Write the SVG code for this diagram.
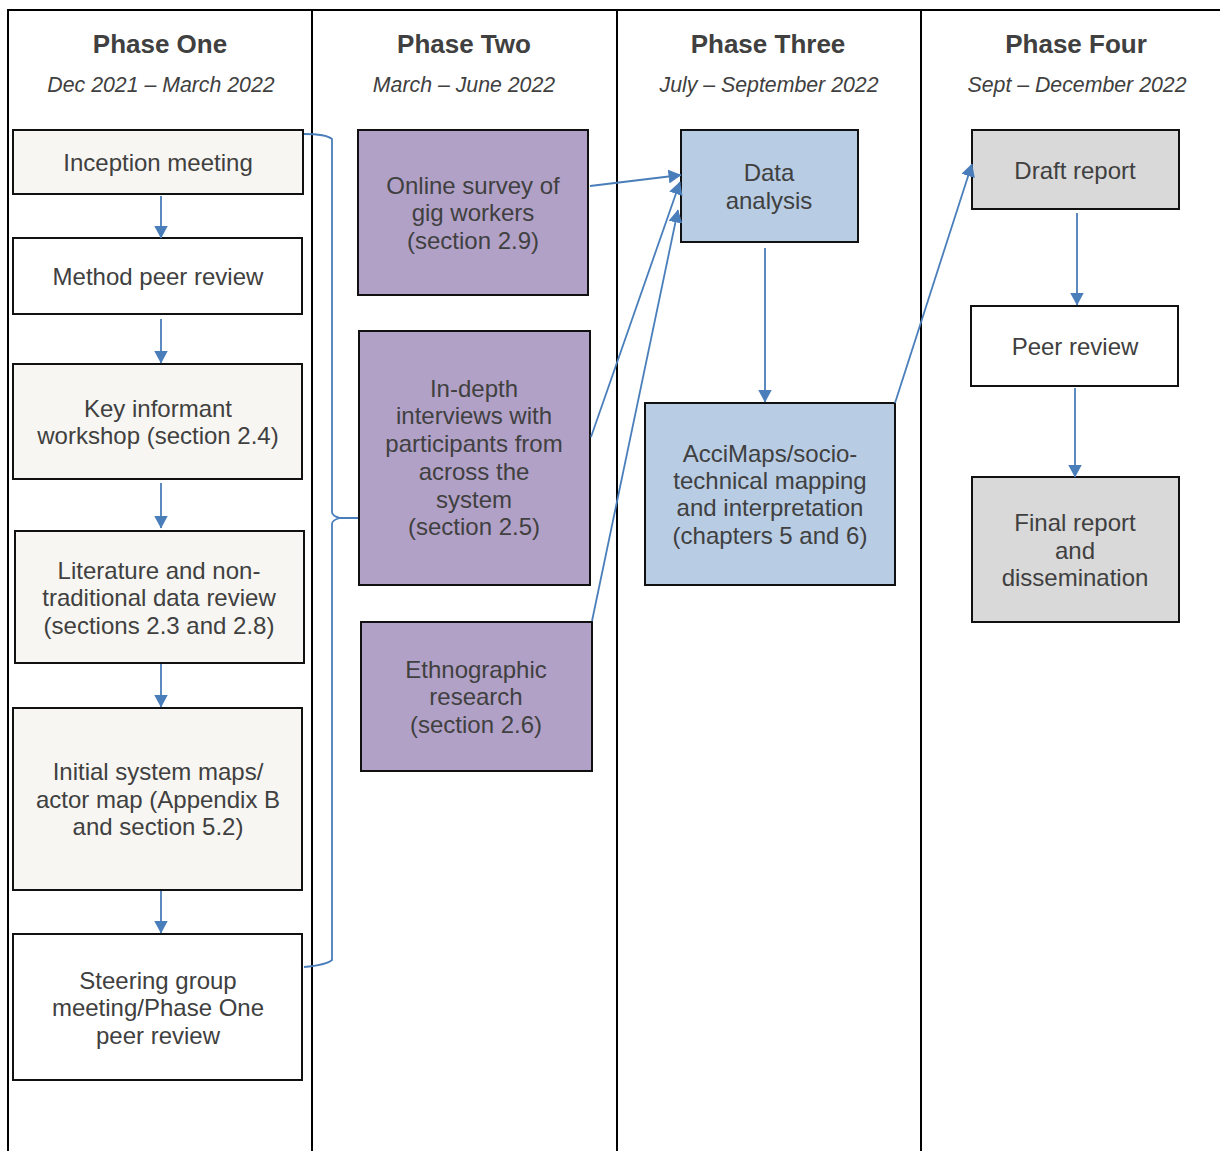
<svg xmlns="http://www.w3.org/2000/svg" width="1220" height="1151" viewBox="0 0 1220 1151">
<defs>
<marker id="ah" viewBox="0 0 13 14" refX="12.5" refY="7" markerWidth="13" markerHeight="14" markerUnits="userSpaceOnUse" orient="auto">
<path d="M0,0 L13,7 L0,14 Z" fill="#4A7EBB"/>
</marker>
<style>
.grid{stroke:#000;stroke-width:2;fill:none}
.box{stroke:#111;stroke-width:2}
.cream{fill:#F7F6F2}
.white{fill:#FFFFFF}
.purple{fill:#B2A1C7}
.blue{fill:#B8CCE4}
.grey{fill:#D9D9D9}
text{font-family:"Liberation Sans",Arial,sans-serif;fill:#404040;text-anchor:middle}
.t{font-size:24px}
.h{font-size:26px;font-weight:bold}
.d{font-size:21.3px;font-style:italic}
.c{stroke:#4A7EBB;stroke-width:1.8;fill:none}
</style>
</defs>
<rect width="1220" height="1151" fill="#fff"/>
<g id="table">
<line class="grid" x1="7" y1="10" x2="1220" y2="10"/>
<line class="grid" x1="8" y1="10" x2="8" y2="1151"/>
<line class="grid" x1="312" y1="10" x2="312" y2="1151"/>
<line class="grid" x1="617" y1="10" x2="617" y2="1151"/>
<line class="grid" x1="921" y1="10" x2="921" y2="1151"/>
</g>
<g id="headers">
<text class="h" x="160" y="53">Phase One</text>
<text class="d" x="161" y="92">Dec 2021 – March 2022</text>
<text class="h" x="464" y="53">Phase Two</text>
<text class="d" x="464" y="92">March – June 2022</text>
<text class="h" x="768" y="53">Phase Three</text>
<text class="d" x="769" y="92">July – September 2022</text>
<text class="h" x="1076" y="53">Phase Four</text>
<text class="d" x="1077" y="92">Sept – December 2022</text>
</g>
<g id="n1"><rect class="box cream" x="13" y="130" width="290" height="64"/><text class="t" x="158" y="171">Inception meeting</text></g>
<g id="n2"><rect class="box white" x="13" y="238" width="289" height="76"/><text class="t" x="158" y="285">Method peer review</text></g>
<g id="n3"><rect class="box cream" x="13" y="364" width="289" height="115"/><text class="t" x="158" y="417">Key informant</text><text class="t" x="158" y="444">workshop (section 2.4)</text></g>
<g id="n4"><rect class="box cream" x="15" y="531" width="289" height="132"/><text class="t" x="159" y="579">Literature and non-</text><text class="t" x="159" y="606">traditional data review</text><text class="t" x="159" y="634">(sections 2.3 and 2.8)</text></g>
<g id="n5"><rect class="box cream" x="13" y="708" width="289" height="182"/><text class="t" x="158" y="780">Initial system maps/</text><text class="t" x="158" y="808">actor map (Appendix B</text><text class="t" x="158" y="835">and section 5.2)</text></g>
<g id="n6"><rect class="box white" x="13" y="934" width="289" height="146"/><text class="t" x="158" y="989">Steering group</text><text class="t" x="158" y="1016">meeting/Phase One</text><text class="t" x="158" y="1044">peer review</text></g>
<g id="n7"><rect class="box purple" x="358" y="130" width="230" height="165"/><text class="t" x="473" y="194">Online survey of</text><text class="t" x="473" y="221">gig workers</text><text class="t" x="473" y="249">(section 2.9)</text></g>
<g id="n8"><rect class="box purple" x="359" y="331" width="231" height="254"/><text class="t" x="474" y="397">In-depth</text><text class="t" x="474" y="424">interviews with</text><text class="t" x="474" y="452">participants from</text><text class="t" x="474" y="480">across the</text><text class="t" x="474" y="508">system</text><text class="t" x="474" y="535">(section 2.5)</text></g>
<g id="n9"><rect class="box purple" x="361" y="622" width="231" height="149"/><text class="t" x="476" y="678">Ethnographic</text><text class="t" x="476" y="705">research</text><text class="t" x="476" y="733">(section 2.6)</text></g>
<g id="n10"><rect class="box blue" x="681" y="130" width="177" height="112"/><text class="t" x="769" y="181">Data</text><text class="t" x="769" y="209">analysis</text></g>
<g id="n11"><rect class="box blue" x="645" y="403" width="250" height="182"/><text class="t" x="770" y="462">AcciMaps/socio-</text><text class="t" x="770" y="489">technical mapping</text><text class="t" x="770" y="516">and interpretation</text><text class="t" x="770" y="544">(chapters 5 and 6)</text></g>
<g id="n12"><rect class="box grey" x="972" y="130" width="207" height="79"/><text class="t" x="1075" y="179">Draft report</text></g>
<g id="n13"><rect class="box white" x="971" y="306" width="207" height="80"/><text class="t" x="1075" y="355">Peer review</text></g>
<g id="n14"><rect class="box grey" x="972" y="477" width="207" height="145"/><text class="t" x="1075" y="531">Final report</text><text class="t" x="1075" y="559">and</text><text class="t" x="1075" y="586">dissemination</text></g>
<g id="connectors">
<line class="c" x1="161" y1="196" x2="161" y2="238" marker-end="url(#ah)"/>
<line class="c" x1="161" y1="319" x2="161" y2="363" marker-end="url(#ah)"/>
<line class="c" x1="161" y1="483" x2="161" y2="528" marker-end="url(#ah)"/>
<line class="c" x1="161" y1="664" x2="161" y2="707" marker-end="url(#ah)"/>
<line class="c" x1="161" y1="891" x2="161" y2="933" marker-end="url(#ah)"/>
<line class="c" x1="765" y1="248" x2="765" y2="402" marker-end="url(#ah)"/>
<line class="c" x1="1077" y1="213" x2="1077" y2="305" marker-end="url(#ah)"/>
<line class="c" x1="1075" y1="388" x2="1075" y2="477" marker-end="url(#ah)"/>
<line class="c" x1="590" y1="186" x2="681" y2="175" marker-end="url(#ah)"/>
<line class="c" x1="591" y1="437" x2="680" y2="182" marker-end="url(#ah)"/>
<line class="c" x1="592" y1="621" x2="678" y2="210" marker-end="url(#ah)"/>
<line class="c" x1="895" y1="403" x2="972" y2="164" marker-end="url(#ah)"/>
<path class="c" d="M304,134 Q326,134 332,139 L332,512 Q332,516 340,518 L358,518 M340,518 Q332,520 332,524 L332,960 Q326,965 304,967"/>
</g>
</svg>
